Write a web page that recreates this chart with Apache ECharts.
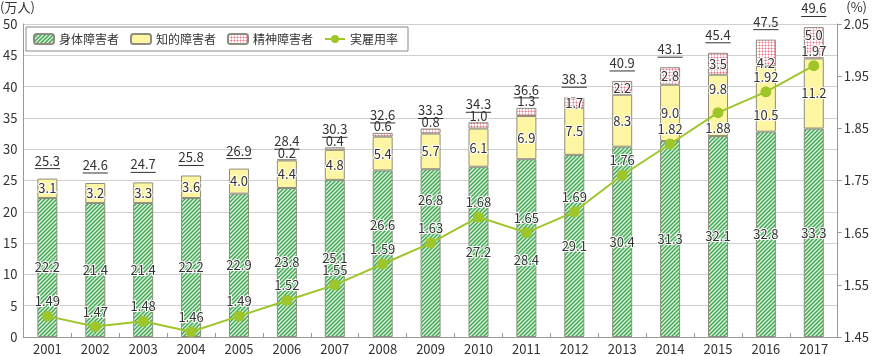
<!DOCTYPE html>
<html><head><meta charset="utf-8">
<script src="https://cdn.jsdelivr.net/npm/echarts@6/dist/echarts.min.js"></script>
<style>html,body{margin:0;padding:0;background:#fff}#c{width:872px;height:356px}</style>
</head><body><div id="c"></div>
<script>
const years = ['2001','2002','2003','2004','2005','2006','2007','2008','2009','2010','2011','2012','2013','2014','2015','2016','2017'];
const physical = [22.2,21.4,21.4,22.2,22.9,23.8,25.1,26.6,26.8,27.2,28.4,29.1,30.4,31.3,32.1,32.8,33.3];
const intellectual = [3.1,3.2,3.3,3.6,4.0,4.4,4.8,5.4,5.7,6.1,6.9,7.5,8.3,9.0,9.8,10.5,11.2];
const mental = [null,null,null,null,null,0.2,0.4,0.6,0.8,1.0,1.3,1.7,2.2,2.8,3.5,4.2,5.0];
const totals = [25.3,24.6,24.7,25.8,26.9,28.4,30.3,32.6,33.3,34.3,36.6,38.3,40.9,43.1,45.4,47.5,49.6];
const rate = [1.49,1.47,1.48,1.46,1.49,1.52,1.55,1.59,1.63,1.68,1.65,1.69,1.76,1.82,1.88,1.92,1.97];
const seriesNames = ['身体障害者','知的障害者','精神障害者','実雇用率'];
const unitLeft = '(万人)', unitRight = '(%)';

// label placement tweaks (style only, pixel nudges)
const physLabelShift   = [0,0,0,0,0,0,0,-29,-53,0,12,0,0,0,0,0,0];
const intelLabelShift  = [0,0,0,0,0,0,0,0,0,0,0,0,0,0,-16,16,0];
const mentalLabelShift = [0,0,0,0,0,0,0,0,0,0,0,0,0,0,0,10,-8];
const rateLabelBelowIdx = [14];

const FONT = '"Noto Sans CJK JP", "Noto Sans", sans-serif';
const TXT = '#333';

function stripeTile(){
  const c=document.createElement('canvas');c.width=4;c.height=4;
  const g=c.getContext('2d');
  g.fillStyle='#e4f4de';g.fillRect(0,0,4,4);
  g.strokeStyle='#3ea957';g.lineWidth=1.5;g.beginPath();
  g.moveTo(-1,5);g.lineTo(5,-1);
  g.moveTo(-1,1);g.lineTo(1,-1);
  g.moveTo(3,5);g.lineTo(5,3);
  g.stroke();return c;
}
function checkTile(){
  const c=document.createElement('canvas');c.width=3;c.height=3;
  const g=c.getContext('2d');
  g.fillStyle='#ffffff';g.fillRect(0,0,3,3);
  g.fillStyle='#f7bcc5';g.fillRect(0,0,3,1);g.fillRect(0,0,1,3);
  g.fillStyle='#ea7286';g.fillRect(0,0,1,1);
  return c;
}
const greenPat={image:stripeTile(),repeat:'repeat'};
const pinkPat={image:checkTile(),repeat:'repeat'};

const mctx=document.createElement('canvas').getContext('2d');
function textW(t){mctx.font='13px '+FONT;return mctx.measureText(t).width;}

const halo={color:TXT,fontSize:13,fontFamily:FONT,textBorderColor:'#fff',textBorderWidth:2};
const barBorder={borderColor:'#8f8d7e',borderWidth:1};

const chart=echarts.init(document.getElementById('c'),null,{renderer:'canvas'});
chart.setOption({
  animation:false,
  textStyle:{fontFamily:FONT},
  grid:{left:21,right:32,top:24,bottom:19,containLabel:false},
  legend:{
    left:26,top:27,padding:[6,10,6,7],itemWidth:20,itemHeight:10,itemGap:11,
    backgroundColor:'#fff',borderColor:'#8a8a8a',borderWidth:1,
    textStyle:{fontSize:12,color:TXT,fontFamily:FONT},
    data:seriesNames
  },
  graphic:[
    {type:'text',left:0,top:1,style:{text:unitLeft,fontSize:13,fontFamily:FONT,fill:TXT}},
    {type:'text',right:5,top:1,style:{text:unitRight,fontSize:13,fontFamily:FONT,fill:TXT}}
  ],
  xAxis:{
    type:'category',data:years,boundaryGap:true,
    axisLine:{lineStyle:{color:'#999'}},
    axisTick:{show:true,inside:true,length:4,lineStyle:{color:'#999'}},
    axisLabel:{color:TXT,fontSize:13,margin:6,fontFamily:FONT}
  },
  yAxis:[
    {type:'value',min:0,max:50,interval:5,
     axisLine:{show:true,lineStyle:{color:'#999'}},axisTick:{show:false},
     axisLabel:{color:TXT,fontSize:13,margin:6,fontFamily:FONT},
     splitLine:{lineStyle:{color:'#d0d0d0'}}},
    {type:'value',min:1.45,max:2.05,interval:0.1,
     axisLine:{show:true,lineStyle:{color:'#999'}},
     axisTick:{show:true,length:4,lineStyle:{color:'#999'}},
     axisLabel:{color:TXT,fontSize:13,margin:6,fontFamily:FONT,formatter:v=>v.toFixed(2)},
     splitLine:{show:false}}
  ],
  series:[
    {name:seriesNames[0],type:'bar',stack:'a',barWidth:20,
     itemStyle:Object.assign({color:greenPat},barBorder),
     data:physical.map((v,i)=>({value:v,label:{offset:[0,physLabelShift[i]]}})),
     label:Object.assign({show:true,position:'inside',formatter:p=>p.value.toFixed(1)},halo),z:2},
    {name:seriesNames[1],type:'bar',stack:'a',barWidth:20,
     itemStyle:Object.assign({color:'#fff6a3'},barBorder),
     data:intellectual.map((v,i)=>({value:v,label:{offset:[0,intelLabelShift[i]]}})),
     label:Object.assign({show:true,position:'inside',formatter:p=>p.value.toFixed(1)},halo),z:2},
    {name:seriesNames[2],type:'bar',stack:'a',barWidth:20,
     itemStyle:Object.assign({color:pinkPat},barBorder),
     data:mental.map((v,i)=>v==null?null:({value:v,label:{position:v<1.5?'top':'inside',distance:0,offset:[0,mentalLabelShift[i]]}})),
     label:Object.assign({show:true,position:'inside',formatter:p=>p.value.toFixed(1)},halo),z:2},
    {name:seriesNames[3],type:'line',yAxisIndex:1,symbol:'circle',symbolSize:11,
     itemStyle:{color:'#9ec62a'},lineStyle:{color:'#9ec62a',width:2},
     data:rate.map((v,i)=>({value:v,label:{position:rateLabelBelowIdx.includes(i)?'bottom':'top'}})),
     label:Object.assign({show:true,distance:3,formatter:p=>p.value.toFixed(2)},halo),z:5},
    {name:'total',type:'custom',z:6,silent:true,
     data:totals.map((v,i)=>[i,v]),encode:{x:0,y:1},
     renderItem:(params,api)=>{
       const p=api.coord([api.value(0),api.value(1)]);
       const t=api.value(1).toFixed(1);
       const w=textW(t);
       const cy=p[1]-18;
       return {type:'group',children:[
         {type:'text',style:{text:t,x:p[0],y:cy,align:'center',verticalAlign:'middle',fontSize:13,fontFamily:FONT,fill:TXT}},
         {type:'line',shape:{x1:p[0]-w/2,y1:cy+8,x2:p[0]+w/2,y2:cy+8},style:{stroke:'#333',lineWidth:1}}
       ]};
     }}
  ]
});
</script></body></html>
